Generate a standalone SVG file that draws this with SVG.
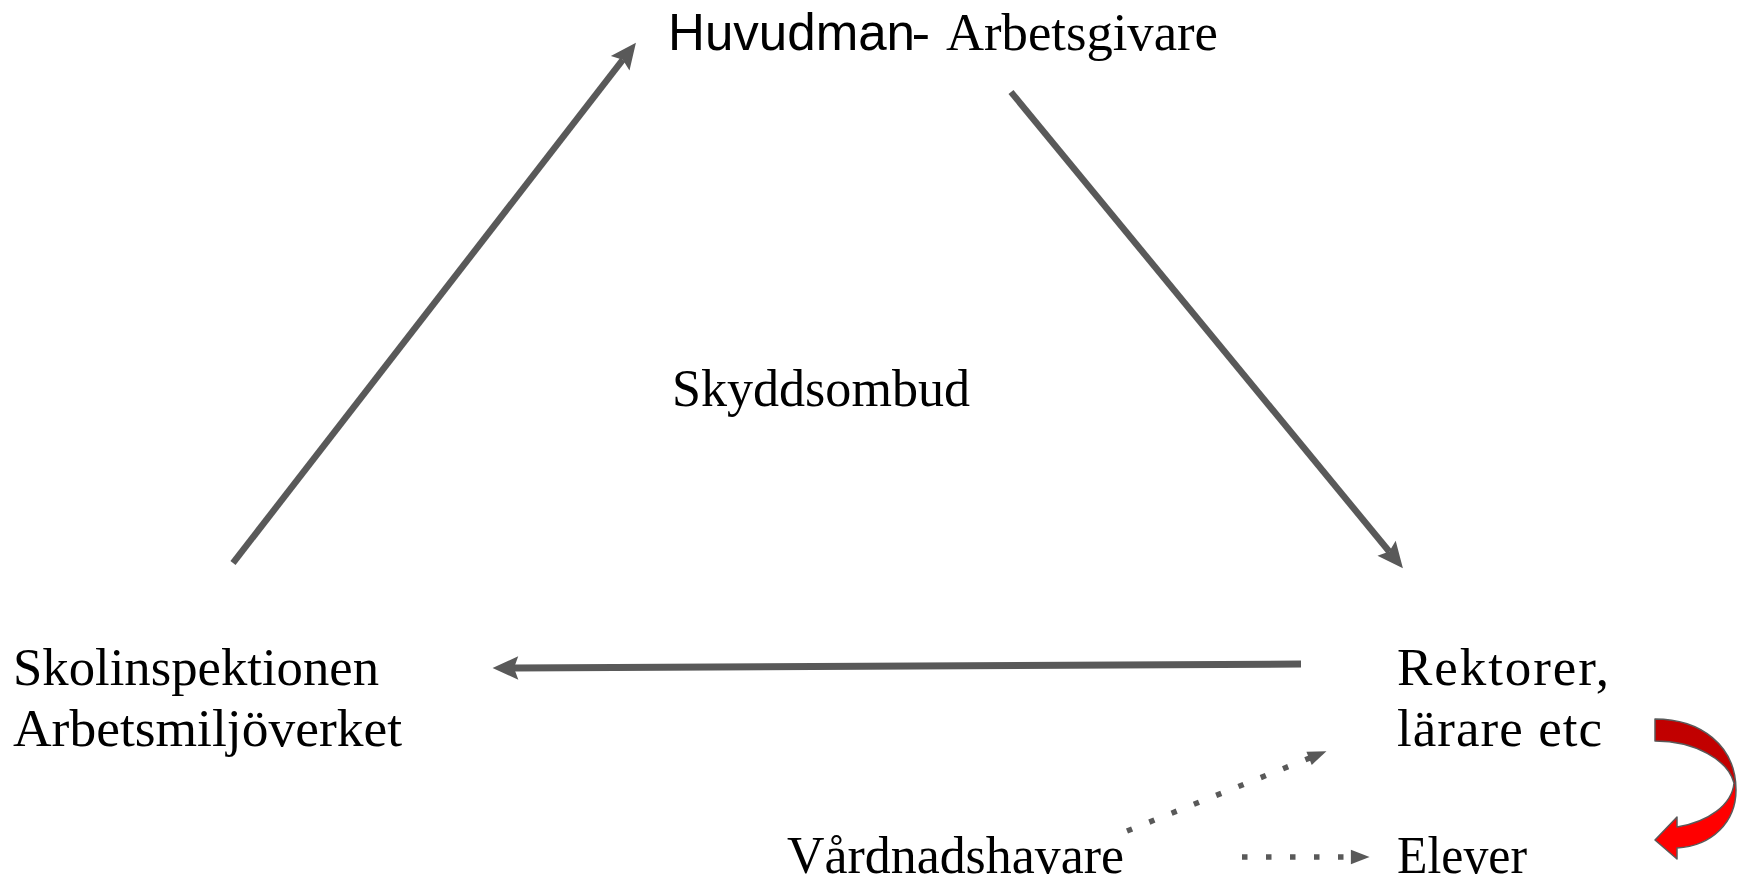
<svg xmlns="http://www.w3.org/2000/svg" width="1737" height="879" viewBox="0 0 1737 879">
  <style>
    .serif { font-family: "Liberation Serif", "Times New Roman", serif; font-size: 53px; fill: #000; }
    .sans { font-family: "Liberation Sans", Arial, sans-serif; font-size: 52px; fill: #000; }
    .solid { stroke: #595959; fill: none; stroke-linecap: butt; }
    .dotted { stroke: #595959; fill: none; stroke-width: 5.5; stroke-dasharray: 5.5 18.5; }
  </style>
  <defs>
    <marker id="head" markerUnits="userSpaceOnUse" markerWidth="30" markerHeight="30" viewBox="-6 -13 28 26" refX="0" refY="0" orient="auto">
      <path d="M-4,-11 L20,0 L-4,11 L0,0 Z" fill="#595959"/>
    </marker>
    <marker id="smallhead" markerUnits="userSpaceOnUse" markerWidth="22" markerHeight="22" viewBox="-2 -8 20 16" refX="0" refY="0" orient="auto">
      <path d="M-1,-6.5 L16,0 L-1,6.5 Z" fill="#595959"/>
    </marker>
    <linearGradient id="redgrad" x1="0" y1="719" x2="0" y2="859" gradientUnits="userSpaceOnUse">
      <stop offset="0" stop-color="#C00000"/>
      <stop offset="0.42" stop-color="#C40000"/>
      <stop offset="0.55" stop-color="#FF0000"/>
      <stop offset="1" stop-color="#FF0000"/>
    </linearGradient>
  </defs>

  <g id="connectors">
    <line class="solid" stroke-width="6.5" x1="233" y1="563" x2="622.8" y2="59.8" marker-end="url(#head)"/>
    <line class="solid" stroke-width="6.5" x1="1011" y1="92" x2="1389.3" y2="551.6" marker-end="url(#head)"/>
    <line class="solid" stroke-width="7" x1="1301" y1="664" x2="514" y2="668" marker-end="url(#head)"/>
    <line class="dotted" x1="1127" y1="831" x2="1310.1" y2="757.9" marker-end="url(#smallhead)"/>
    <line class="dotted" x1="1242" y1="857" x2="1352" y2="857" marker-end="url(#smallhead)"/>
    <path id="curved-arrow" d="M1655,719 C1700,719 1736,745 1736,790 C1736,822 1712,846 1677,848 L1677,859 L1655,840 L1677,817 L1677,827 C1708,822 1732,805 1734,783 C1728,760 1695,741 1655,741 Z" fill="url(#redgrad)" stroke="#595959" stroke-width="1.5" stroke-linejoin="round"/>
  </g>

  <g id="n-huvudman">
    <text class="sans" x="668" y="50" textLength="247" lengthAdjust="spacingAndGlyphs">Huvudman</text>
    <text class="serif" x="912" y="50">-</text>
    <text class="serif" x="946" y="50" textLength="272" lengthAdjust="spacingAndGlyphs">Arbetsgivare</text>
  </g>

  <g id="n-skyddsombud">
    <text class="serif" x="672" y="406" textLength="298" lengthAdjust="spacingAndGlyphs">Skyddsombud</text>
  </g>

  <g id="n-skolinspektionen">
    <text class="serif" x="13" y="685" textLength="366" lengthAdjust="spacingAndGlyphs">Skolinspektionen</text>
    <text class="serif" x="13" y="746" textLength="389" lengthAdjust="spacingAndGlyphs">Arbetsmiljöverket</text>
  </g>

  <g id="n-rektorer">
    <text class="serif" x="1397" y="685" textLength="212" lengthAdjust="spacing">Rektorer,</text>
    <text class="serif" x="1397" y="746" textLength="205" lengthAdjust="spacing">lärare etc</text>
  </g>

  <g id="n-vardnadshavare">
    <text class="serif" x="787" y="873" textLength="337" lengthAdjust="spacingAndGlyphs">Vårdnadshavare</text>
  </g>

  <g id="n-elever">
    <text class="serif" x="1397" y="873" textLength="130" lengthAdjust="spacingAndGlyphs">Elever</text>
  </g>
</svg>
